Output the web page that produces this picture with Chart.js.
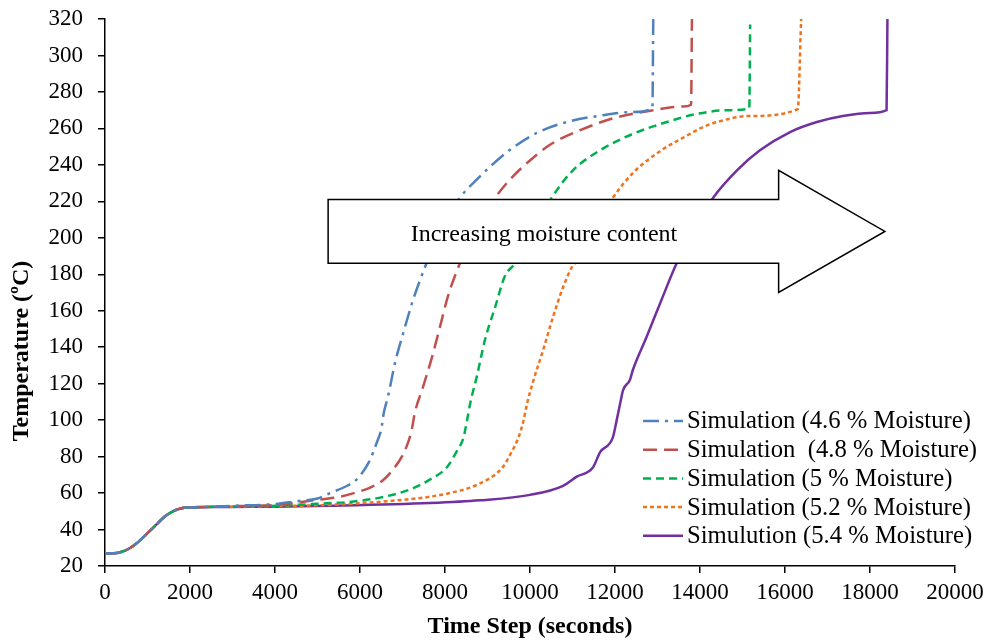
<!DOCTYPE html>
<html>
<head>
<meta charset="utf-8">
<script src="https://cdn.jsdelivr.net/npm/chart.js@4.4.1/dist/chart.umd.min.js"></script>
<style>
  html, body { margin: 0; padding: 0; background: #fff; }
  #wrap { width: 987px; height: 642px; }
</style>
</head>
<body>
<div id="wrap"><canvas id="temps"></canvas></div>
<script>
// time (s) and temperature (C), one pair of arrays per run
const time46 = [0, 200, 400, 600, 800, 1000, 1200, 1400, 1600, 1800, 2000, 2400, 3000, 4000, 4500, 5000, 5300, 5700, 5900, 6210, 6400, 6500, 6560, 6660, 6820, 7020, 7250, 7530, 7900, 8350, 8750, 9460, 10160, 10870, 11650, 12420, 12880, 12900];
const temp46 = [27, 27, 27.8, 30, 33.5, 38, 42.5, 47, 50, 51.7, 52.1, 52.4, 53, 54, 55.5, 57, 60, 64, 67, 77, 88, 95, 104, 113, 131, 148, 166, 184, 205, 222, 232, 247, 257.5, 263.5, 267, 269, 271, 320];

const time48 = [0, 200, 400, 600, 800, 1000, 1200, 1400, 1600, 1800, 2000, 2400, 3000, 4000, 4900, 5530, 6000, 6240, 6540, 6780, 7010, 7150, 7220, 7290, 7480, 7700, 7880, 8070, 8350, 8700, 9180, 9530, 9930, 10470, 11180, 11950, 12900, 13600, 13790, 13810];
const temp48 = [27, 27, 27.8, 30, 33.5, 38, 42.5, 47, 50, 51.7, 52.1, 52.4, 52.8, 53.5, 56, 58, 61, 63, 67, 73, 81, 89, 95, 104, 118, 135, 151, 168, 186, 205, 222, 232, 241, 251, 259, 265.5, 270, 272, 273, 320];

const time50 = [0, 200, 400, 600, 800, 1000, 1200, 1400, 1600, 1800, 2000, 2400, 3000, 4000, 5290, 5690, 6470, 7180, 7650, 8040, 8280, 8430, 8520, 8600, 8750, 8940, 9180, 9410, 9650, 10100, 10540, 11010, 11650, 12420, 13220, 13930, 14700, 15160, 15180];
const temp50 = [27, 27, 27.8, 30, 33.5, 38, 42.5, 47, 50, 51.7, 52.1, 52.4, 52.6, 53, 54.5, 55, 57.5, 62, 67.5, 74, 83, 90, 100, 110, 124, 144, 162, 179, 186, 205, 223, 237, 248, 257, 263.5, 268, 270, 271, 317];

const time52 = [0, 200, 400, 600, 800, 1000, 1200, 1400, 1600, 1800, 2000, 2400, 3000, 4000, 5000, 6070, 6870, 7650, 8200, 8750, 9370, 9530, 9720, 9840, 9930, 10070, 10310, 10540, 10780, 10990, 11130, 11500, 11950, 12420, 13060, 13690, 14000, 14400, 15180, 16300, 16380];
const temp52 = [27, 27, 27.8, 30, 33.5, 38, 42.5, 47, 50, 51.7, 52.1, 52.4, 52.5, 52.8, 53.3, 54.5, 56, 58, 60.5, 64.5, 74.5, 81, 90, 99, 109, 121, 138.5, 156.5, 173, 184, 188, 205, 222, 235.5, 247.5, 256, 260, 263.5, 266.8, 270.6, 320];

const time54 = [0, 200, 400, 600, 800, 1000, 1200, 1400, 1600, 1800, 2000, 2400, 3000, 4000, 5290, 7650, 8820, 10000, 10780, 11100, 11480, 11650, 11950, 12040, 12120, 12190, 12350, 12420, 12750, 13060, 13450, 13840, 14310, 14870, 15410, 16120, 16750, 17360, 18000, 18390, 18410];
const temp54 = [27, 27, 27.8, 30, 33.5, 38, 42.5, 47, 50, 51.7, 52.1, 52.3, 52.4, 52.5, 53, 54.5, 56, 59, 64, 69, 74, 82.5, 90.5, 100, 109, 116.5, 122, 127.5, 146, 164, 186, 204, 222, 237, 248, 258, 263.5, 266.8, 268.5, 270, 320];

const seriesNames = [
  'Simulation (4.6 % Moisture)',
  'Simulation  (4.8 % Moisture)',
  'Simulation (5 % Moisture)',
  'Simulation (5.2 % Moisture)',
  'Simulution (5.4 % Moisture)'
];
const xTicks = [0, 2000, 4000, 6000, 8000, 10000, 12000, 14000, 16000, 18000, 20000];
const yTicks = [20, 40, 60, 80, 100, 120, 140, 160, 180, 200, 220, 240, 260, 280, 300, 320];

const lineColors = ['#4F81BD', '#C0504D', '#00B050', '#EE7420', '#7030A0'];
const lineDashes = [[16, 6, 3, 6], [14, 7], [8, 5], [4, 3], []];

const pairs = (xs, ys) => xs.map((x, i) => ({ x: x, y: ys[i] }));
const allTimes = [time46, time48, time50, time52, time54];
const allTemps = [temp46, temp48, temp50, temp52, temp54];

const serif = "'Liberation Serif', 'Times New Roman', serif";

// arrow, y title and legend drawn on top of the lines
const overlay = {
  id: 'overlay',
  afterDraw(chart) {
    const { ctx, scales: { x, y } } = chart;
    const xl = x.getPixelForValue(5250), xm = x.getPixelForValue(15850), xt = x.getPixelForValue(18350);
    const yHt = y.getPixelForValue(237), yBt = y.getPixelForValue(221);
    const yBb = y.getPixelForValue(186), yHb = y.getPixelForValue(170);
    const yTip = y.getPixelForValue(203.5);
    ctx.save();
    ctx.beginPath();
    ctx.moveTo(xl, yBt);
    ctx.lineTo(xm, yBt);
    ctx.lineTo(xm, yHt);
    ctx.lineTo(xt, yTip);
    ctx.lineTo(xm, yHb);
    ctx.lineTo(xm, yBb);
    ctx.lineTo(xl, yBb);
    ctx.closePath();
    ctx.fillStyle = '#fff';
    ctx.fill();
    ctx.lineWidth = 1.5;
    ctx.strokeStyle = '#000';
    ctx.stroke();
    ctx.fillStyle = '#000';
    ctx.font = '24px ' + serif;
    ctx.textAlign = 'center';
    ctx.textBaseline = 'middle';
    ctx.fillText('Increasing moisture content', 544, 235);

    // y axis title
    ctx.save();
    ctx.translate(22, 351);
    ctx.rotate(-Math.PI / 2);
    ctx.font = 'bold 24px ' + serif;
    ctx.fillText('Temperature (ºC)', 0, 0);
    ctx.restore();

    // legend
    ctx.font = '24.7px ' + serif;
    ctx.textAlign = 'left';
    chart.data.datasets.forEach((ds, i) => {
      const ry = 421 + i * 28.7;
      ctx.beginPath();
      ctx.setLineDash(ds.borderDash);
      ctx.strokeStyle = ds.borderColor;
      ctx.lineWidth = 2.5;
      ctx.moveTo(643, ry);
      ctx.lineTo(683, ry);
      ctx.stroke();
      ctx.setLineDash([]);
      ctx.fillStyle = '#000';
      ctx.fillText(ds.label, 687, ry + 1);
    });
    ctx.restore();
  }
};

const ctx0 = document.getElementById('temps').getContext('2d');
const tempChart = new Chart(ctx0, {
  type: 'line',
  data: {
    datasets: seriesNames.map((name, i) => ({
      label: name,
      data: pairs(allTimes[i], allTemps[i]),
      borderColor: lineColors[i],
      borderDash: lineDashes[i],
      borderWidth: 2.5,
      pointRadius: 0,
      fill: false,
      cubicInterpolationMode: 'monotone'
    }))
  },
  options: {
    responsive: true,
    maintainAspectRatio: false,
    animation: false,
    layout: { padding: { top: 19, right: 32, left: 0, bottom: 0 } },
    plugins: {
      legend: { display: false },
      tooltip: { enabled: false }
    },
    scales: {
      x: {
        type: 'linear',
        min: 0,
        max: 20000,
        afterBuildTicks: (s) => { s.ticks = xTicks.map(v => ({ value: v })); },
        afterFit: (s) => { s.height = 76; s.paddingLeft = 0; s.paddingRight = 0; },
        grid: { drawOnChartArea: false, tickLength: 7, color: '#000', lineWidth: 1.5 },
        border: { color: '#000', width: 1.5 },
        ticks: { color: '#000', padding: 6, font: { family: serif, size: 23 }, maxRotation: 0, callback: (v) => String(v) },
        title: { display: true, text: 'Time Step (seconds)', color: '#000', padding: { top: 0, bottom: 1 }, font: { family: serif, size: 24, weight: 'bold' } }
      },
      y: {
        min: 20,
        max: 320,
        afterBuildTicks: (s) => { s.ticks = yTicks.map(v => ({ value: v })); },
        afterFit: (s) => { s.width = 105; s.paddingTop = 0; s.paddingBottom = 0; },
        grid: { drawOnChartArea: false, tickLength: 7, color: '#000', lineWidth: 1.5 },
        border: { color: '#000', width: 1.5 },
        ticks: { color: '#000', padding: 15, font: { family: serif, size: 23 }, callback: (v) => String(v) }
      }
    }
  },
  plugins: [overlay]
});
</script>
</body>
</html>
